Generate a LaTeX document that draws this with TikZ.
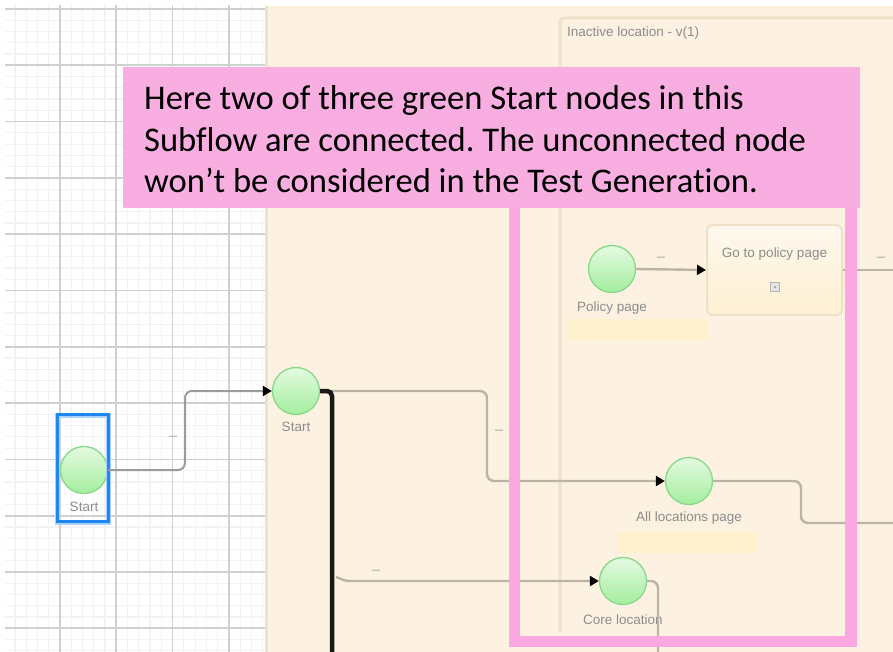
\documentclass[tikz,border=0pt]{standalone}
\usepackage{fontspec}
\setmainfont{Liberation Sans}
\newfontfamily\calloutfont[Ligatures=NoCommon]{Carlito}
\usetikzlibrary{arrows.meta}
\frenchspacing

\definecolor{gridminor}{HTML}{F3F3F3}
\definecolor{gridmajor}{HTML}{D0D0D0}
\definecolor{canvasbg}{HTML}{FDF2E2}
\definecolor{canvasedge}{HTML}{EFE0CA}
\definecolor{notepink}{HTML}{F9AEE2}
\definecolor{framepink}{HTML}{FCA8E0}
\definecolor{startfill}{HTML}{E4FAE1}
\definecolor{startfillb}{HTML}{A4EE9E}
\definecolor{startline}{HTML}{88D88A}
\definecolor{lbltext}{HTML}{8C8C8C}
\definecolor{flowline}{HTML}{BCB3A6}
\definecolor{gridflow}{HTML}{9C9C9C}
\definecolor{tagbar}{HTML}{FFF0CE}
\definecolor{selblue}{HTML}{1E88F0}
\definecolor{selhalo}{HTML}{A9D2FF}

\tikzset{
  startnode/.style={circle, minimum size=47pt, inner sep=0pt, draw=startline,
    line width=1.3pt, top color=startfill, bottom color=startfillb},
  lbl/.style={text=lbltext, font=\fontsize{13.5}{15}\selectfont, inner sep=0pt},
  edgelbl/.style={text=lbltext!70, font=\fontsize{15}{15}\selectfont, inner sep=0pt},
  flow/.style={draw=flowline, line width=2.4pt, rounded corners=7pt},
  gflow/.style={draw=gridflow, line width=2pt, rounded corners=7pt},
  tip/.style={-{Triangle[length=9pt,width=10pt,color=black]}},
  notetext/.style={font=\calloutfont\fontsize{34.6}{41}\selectfont, anchor=base west, inner sep=0pt},
  tagbox/.style={fill=tagbar, draw=none, inner sep=0pt},
}

\begin{document}
\begin{tikzpicture}[x=1pt,y=-1pt]
\useasboundingbox (0,0) rectangle (893,652);
\fill[white] (0,0) rectangle (893,652);

% ---- grid canvas on the left
\begin{scope}
  \clip (5,6) rectangle (265,652);
  \foreach \i in {0,...,24} {
    \draw[gridminor, line width=1.2pt] ({3.7+\i*11.26},0) -- ++(0,660);
  }
  \foreach \i in {0,...,58} {
    \draw[gridminor, line width=1.2pt] (0,{9+\i*11.26}) -- ++(270,0);
  }
  \foreach \i in {0,...,5} {
    \draw[gridmajor, line width=1.7pt] ({3.7+\i*56.3},0) -- ++(0,660);
  }
  \foreach \i in {0,...,11} {
    \draw[gridmajor, line width=1.7pt] (0,{9+\i*56.3}) -- ++(270,0);
  }
\end{scope}

% ---- subflow canvas
\fill[canvasbg] (265,6) rectangle (893,652);
\draw[canvasedge, line width=3pt] (266.5,6) -- (266.5,652);

% ---- inner container
\draw[canvasedge, line width=3pt, rounded corners=4pt] (560,632) -- (560,18) -- (900,18);
\node[lbl, anchor=base west] (title) at (567,37) {Inactive location - v(1)};

% ---- yellow tag bars under nodes
\node[tagbox, minimum width=141pt, minimum height=21pt] (tagpol) at (637.5,329.5) {};
\node[tagbox, minimum width=141pt, minimum height=21pt] (tagall) at (687.5,542.5) {};

% ---- nodes
\node[startnode] (s0) at (84,470) {};
\node[lbl] (s0lbl) at (84,507) {Start};
\node[startnode] (s1) at (296,391) {};
\node[lbl] (s1lbl) at (296,427) {Start};
\node[startnode] (pol) at (612,269) {};
\node[lbl] (pollbl) at (612,308) {Policy page};
\node[startnode] (all) at (689,481) {};
\node[lbl] (alllbl) at (689,518) {All locations page};
\node[startnode] (core) at (623,581) {};
\node[lbl] (corelbl) at (623,620) {Core location};

\node[draw=canvasedge, line width=2pt, rounded corners=6pt, minimum width=135pt,
      minimum height=90pt, top color=canvasbg!60!white, bottom color=tagbar!80!canvasbg,
      inner sep=0pt] (gotopol) at (774.5,270) {};
\node[lbl] (gotolbl) at (774.5,254) {Go to policy page};
\node[draw=gray!60, line width=0.8pt, fill=gray!20, minimum size=9pt, inner sep=0pt] (icon) at (775,287) {};
\fill[gray!70] (icon.center) circle (1.3pt);

% ---- selection frame round the left Start
\node[draw=selhalo, line width=5pt, minimum width=51pt, minimum height=107pt, inner sep=0pt] (selhalo) at (83,469) {};
\node[draw=selblue, line width=2.6pt, minimum width=51pt, minimum height=107pt, inner sep=0pt] (sel) at (83,468) {};

% ---- connectors
\coordinate (leftA) at (185,470);
\draw[gflow, tip] (s0.east) -- (leftA) -- (leftA |- s1.west) -- (s1.west);
\node[edgelbl] (e1) at (173,438) {--};

\coordinate (bendA) at (487,391);
\draw[flow, tip] (s1.east) -- (bendA) -- (bendA |- all.west) -- (all.west);
\node[edgelbl] (e2) at (499,432) {--};

\coordinate (trunk) at (332,391);
\coordinate (trunkend) at (332,660);
\draw[black!90, line width=4.5pt, rounded corners=5pt] (s1.east) -- (trunk) -- (trunkend);

\coordinate (branch) at (336,577);
\coordinate (branchB) at (346,581);
\draw[flow, tip, rounded corners=3pt] (branch) -- (branchB) -- (core.west);
\node[edgelbl] (e3) at (376,572) {--};

\draw[flow, tip] (pol.east) -- (gotopol.west);
\node[edgelbl] (e4) at (661,259) {--};

\coordinate (outpol) at (900,270);
\draw[flow] (gotopol.east) -- (outpol);
\node[edgelbl] (e5) at (881,259) {--};

\coordinate (bendB) at (801,481);
\coordinate (outall) at (900,523);
\draw[flow] (all.east) -- (bendB) -- (bendB |- outall) -- (outall);

\coordinate (bendC) at (658,581);
\coordinate (outcore) at (658,660);
\draw[flow] (core.east) -- (bendC) -- (outcore);

% ---- highlight frame and note
\draw[framepink, line width=11.5pt] (514.5,205) -- (514.5,641.5) -- (851,641.5) -- (851,205);
\node[fill=notepink, minimum width=737pt, minimum height=141pt, inner sep=0pt] (note) at (491.5,137.5) {};
\node[notetext] (line1) at (144,110) {Here two of three green Start nodes in this};
\node[notetext] (line2) at (144,151.5) {Subflow are connected. The unconnected node};
\node[notetext] (line3) at (144,193) {won’t be considered in the Test Generation.};
\end{tikzpicture}
\end{document}
